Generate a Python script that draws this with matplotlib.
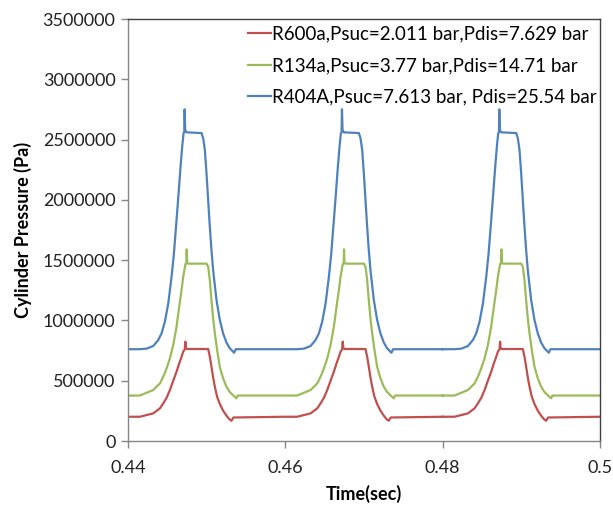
import numpy as np
import matplotlib
matplotlib.use('Agg')
import matplotlib.pyplot as plt

plt.rcParams['font.family'] = ['Lato', 'DejaVu Sans']

# start of each compressor cycle (s); the same cycle repeats every 0.02 s
cycle_starts = [0.44, 0.46, 0.48]

# one cycle of cylinder pressure: time into the cycle (ms) and pressure (Pa)
t_r600a = [0, 1.5, 3.21, 4.06, 4.48, 4.91, 5.33, 5.75, 6.17, 6.51, 6.81, 7.02, 7.22, 7.3, 7.37, 7.55,
           10.19, 10.4, 10.61, 10.82, 11.04, 11.33, 11.67, 12.09, 12.52, 12.86, 13.15, 13.4, 20]
p_r600a = [201100, 201100, 229000, 271000, 312000, 359000, 423000, 500000, 575000, 644000, 699000, 741000,
           760000, 824000, 770000, 762900,
           762900, 699000, 616000, 528000, 450000, 367000, 307000, 252000, 210000, 182000, 168000, 195000, 201100]

t_r134a = [0, 1.5, 3.21, 4.06, 4.48, 4.91, 5.33, 5.75, 6.17, 6.51, 6.81, 7.02, 7.3, 7.42, 7.46, 7.52, 7.7,
           9.98, 10.19, 10.4, 10.61, 10.82, 11.04, 11.33, 11.67, 12.09, 12.52, 12.94, 13.36, 13.79, 13.95, 20]
p_r134a = [377000, 377000, 423000, 478000, 533000, 603000, 686000, 796000, 948000, 1114000, 1252000, 1363000,
           1468000, 1470000, 1590000, 1480000, 1471000,
           1471000, 1446000, 1335000, 1169000, 1018000, 893000, 755000, 616000, 520000, 450000, 406000, 379000,
           354000, 377000, 377000]

t_r404a = [0, 1.5, 2.37, 3.21, 3.85, 4.27, 4.69, 5.12, 5.54, 5.84, 6.17, 6.43, 6.68, 6.89, 7.06, 7.15, 7.2,
           7.27, 7.45,
           9.35, 9.56, 9.77, 9.98, 10.19, 10.4, 10.61, 10.82, 11.25, 11.67, 12.09, 12.52, 12.94, 13.49, 13.7, 20]
p_r404a = [761300, 761300, 766000, 788000, 838000, 893000, 990000, 1142000, 1363000, 1557000, 1833000, 2054000,
           2275000, 2441000, 2552000, 2560000, 2751000, 2580000, 2560000,
           2554000, 2510000, 2414000, 2220000, 1999000, 1778000, 1584000, 1418000, 1169000, 1004000, 893000,
           816000, 769000, 732000, 761300, 761300]

labels = ['R600a,Psuc=2.011 bar,Pdis=7.629 bar',
          'R134a,Psuc=3.77 bar,Pdis=14.71 bar',
          'R404A,Psuc=7.613 bar, Pdis=25.54 bar']
colors = ['#C0504D', '#9BBB59', '#4F81BD']


def full_trace(t_ms, p):
    t = np.concatenate([start + np.array(t_ms) / 1000.0 for start in cycle_starts])
    return t, np.tile(p, len(cycle_starts))


fig = plt.figure(figsize=(6.13, 5.11), dpi=100)
ax = fig.add_axes([128 / 613, 1 - 441 / 511, 472 / 613, 422 / 511])

for (t_ms, p), lab, c in zip([(t_r600a, p_r600a), (t_r134a, p_r134a), (t_r404a, p_r404a)],
                             labels, colors):
    t, pp = full_trace(t_ms, p)
    ax.plot(t, pp, color=c, lw=1.6, label=lab, solid_joinstyle='round')

ax.set_xlim(0.44, 0.5)
ax.set_ylim(0, 3500000)
ax.set_xticks([0.44, 0.46, 0.48, 0.5])
ax.set_xticklabels(['0.44', '0.46', '0.48', '0.5'])
ax.set_yticks(np.arange(0, 3500001, 500000))
ax.set_yticklabels([str(v) for v in range(0, 3500001, 500000)])
ax.tick_params(axis='both', direction='out', length=5, width=1, color='#868686',
               labelsize=13, labelcolor='#222222', pad=4)
ax.tick_params(axis='x', pad=9)

for side in ['left', 'bottom']:
    ax.spines[side].set_color('#868686')
    ax.spines[side].set_linewidth(1)
for side in ['top', 'right']:
    ax.spines[side].set_color('#404040')
    ax.spines[side].set_linewidth(1)

ax.set_xlabel('Time(sec)', fontsize=13, fontweight='bold', labelpad=6)
ax.set_ylabel('Cylinder Pressure (Pa)', fontsize=13, fontweight='bold', labelpad=8)

ax.legend(loc='upper left', bbox_to_anchor=(248 / 613, 1 - 25.5 / 511), bbox_transform=fig.transFigure,
          frameon=False, fontsize=13.5, handlelength=1.2, handletextpad=0.1,
          borderpad=0, borderaxespad=0, labelspacing=0.78)

fig.savefig('out.png', dpi=100)
